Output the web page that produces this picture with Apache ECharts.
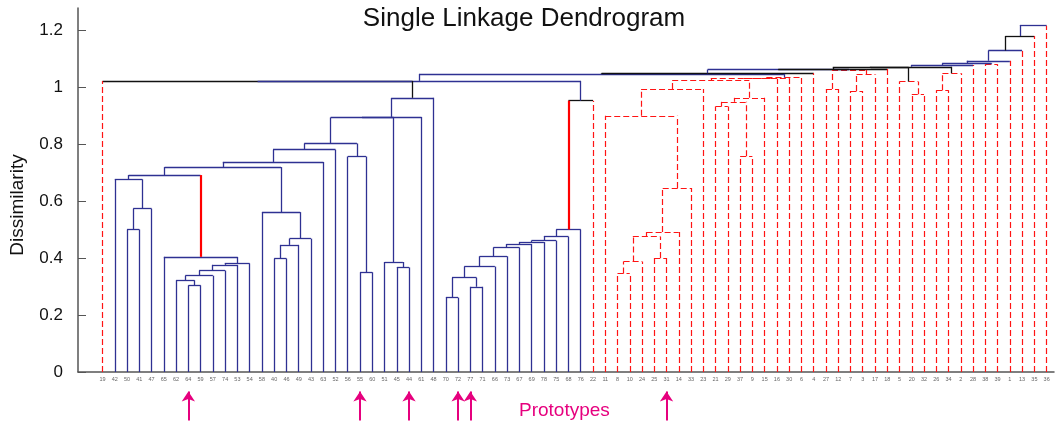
<!DOCTYPE html>
<html>
<head>
<meta charset="utf-8">
<script src="https://cdn.jsdelivr.net/npm/echarts@6/dist/echarts.min.js"></script>
<style>html,body{margin:0;padding:0;background:#fff}#c{width:1057px;height:423px}</style>
</head>
<body>
<div id="c"></div>
<script>
// Leaf labels in dendrogram order (left to right)
var leafLabels = [19,42,50,41,47,65,62,64,59,57,74,53,54,58,40,46,49,43,63,52,
  56,55,60,51,45,44,61,48,70,72,77,71,66,73,67,69,78,75,68,76,22,
  11,8,10,24,25,31,14,33,23,21,29,37,9,15,16,30,6,4,27,12,
  7,3,17,18,5,20,32,26,34,2,28,38,39,1,13,35,36];

// Merge table: [left child, right child, height]; children 1..78 are leaves, 79+ are earlier merges
var mergeLeft  = [64,62,80,81,82,83,65,50,86,42,88,40,90,91,58,89,94,95,55,56,96,45,51,99,102,103,
  70,77,105,107,108,109,110,111,112,113,114,115,
  8,117,25,118,120,121,11,123,21,37,125,127,124,129,130,131,
  27,7,134,133,20,5,26,139,38,
  19,142,143,144,145,146,147,148,149,150,151,152,153,154];
var mergeRight = [59,79,57,74,53,54,84,41,47,87,85,46,49,43,92,93,63,52,60,97,98,44,100,101,61,48,
  72,71,106,66,73,67,69,78,75,68,76,22,
  10,24,31,119,14,33,122,23,29,9,126,15,128,16,30,6,
  12,3,17,135,32,137,34,2,39,
  104,116,132,4,136,18,138,140,28,141,1,13,35,36];
var mergeHeight = [0.304,0.322,0.338,0.356,0.376,0.381,0.404,0.500,0.573,0.676,0.691,0.398,0.446,0.468,0.561,0.719,0.737,0.780,0.350,0.756,0.802,0.367,0.386,0.893,0.895,0.962,
  0.261,0.299,0.331,0.370,0.406,0.437,0.449,0.456,0.461,0.475,0.500,0.952,
  0.346,0.388,0.400,0.475,0.491,0.646,0.899,0.993,0.932,0.757,0.948,0.962,1.023,1.029,1.031,1.033,
  0.993,0.986,1.044,1.060,0.975,1.019,0.989,1.048,1.080,
  1.021,1.0215,1.046,1.048,1.061,1.063,1.068,1.071,1.077,1.083,1.092,1.128,1.179,1.215];
// link colour class: b = blue, r = red dashed, k = black
var mergeClass = ['b','b','b','b','b','b','b','b','b','b','b','b','b','b','b','b','b','b','b','b','b','b','b','b','b','b',
  'b','b','b','b','b','b','b','b','b','b','b','k',
  'r','r','r','r','r','r','r','r','r','r','r','r','r','r','r','r',
  'r','r','r','r','r','r','r','r','r',
  'k','b','b','k','b','k','k','k','b','b','b','b','k','b'];
// clusters whose upward leg is highlighted (solid red)
var highlighted = [85,115];
// prototype leaves (arrows)
var prototypes = [64,55,44,72,77,31];
var yTicks = [0,0.2,0.4,0.6,0.8,1,1.2];

var N = leafLabels.length;
var pos = {}, hgt = {}, cls = {};
leafLabels.forEach(function(l,i){ pos[l]=i; hgt[l]=0; cls[l]= l<=39 ? 'r' : 'b'; });
var styles = {
  b: {color:'#2e3192', width:1.3, type:'solid', opacity:1},
  r: {color:'#ff1414', width:1.2, type:[6,3], opacity:1},
  k: {color:'#111111', width:1.3, type:'solid', opacity:1},
  h: {color:'#ff0000', width:2.2, type:'solid', opacity:1}
};
var legData = [], horData = [];
for (var m=0;m<mergeLeft.length;m++){
  var id = N+1+m, a=mergeLeft[m], b=mergeRight[m], h=mergeHeight[m], c=mergeClass[m];
  [a,b].forEach(function(ch){
    var st = highlighted.indexOf(ch)>=0 ? 'h' : (ch<=N ? cls[ch] : c);
    legData.push({coords:[[pos[ch],hgt[ch]],[pos[ch],h]], lineStyle:styles[st]});
  });
  horData.push({coords:[[pos[a],h],[pos[b],h]], lineStyle:styles[c]});
  pos[id]=(pos[a]+pos[b])/2; hgt[id]=h; cls[id]=c;
}
var arrowData = prototypes.map(function(p){
  var i = leafLabels.indexOf(p);
  return {coords:[[i,-0.17],[i,-0.068]]};
});

var chart = echarts.init(document.getElementById('c'));
chart.setOption({
  animation:false,
  title:{text:'Single Linkage Dendrogram', left:519, top:1, textAlign:'center',
    textStyle:{fontFamily:'Liberation Sans, Arial, sans-serif', fontSize:26, fontWeight:'normal', color:'#111'}},
  grid:{left:78, right:0, top:8, bottom:51},
  xAxis:{type:'value', min:-2, max:77.6, interval:1,
    axisLine:{onZero:false, lineStyle:{color:'#555', width:1.5}}, axisTick:{show:false}, splitLine:{show:false},
    axisLabel:{fontSize:5.5, color:'#666', margin:4, fontFamily:'Liberation Sans, Arial',
      formatter:function(v){ return (v>=0 && v<N && v===Math.round(v)) ? String(leafLabels[v]) : ''; }}},
  yAxis:{type:'value', min:0, max:1.2772, interval:0.2,
    name:'Dissimilarity', nameLocation:'middle', nameGap:51, nameRotate:90,
    nameTextStyle:{fontSize:19, color:'#111', fontFamily:'Liberation Sans, Arial', padding:[0,30,0,0]},
    axisLine:{show:true, onZero:false, lineStyle:{color:'#555', width:1.5}},
    axisTick:{show:true, inside:true, length:8, lineStyle:{color:'#555'}},
    splitLine:{show:false},
    axisLabel:{fontSize:17, color:'#111', margin:15, fontFamily:'Liberation Sans, Arial', showMaxLabel:false,
      formatter:function(v){ return yTicks.indexOf(Math.round(v*10)/10)>=0 ? String(Math.round(v*10)/10) : ''; }}},
  series:[
    {type:'lines', coordinateSystem:'cartesian2d', polyline:false, silent:true, z:2, data:horData},
    {type:'lines', coordinateSystem:'cartesian2d', polyline:false, silent:true, z:3, data:legData},
    {type:'lines', coordinateSystem:'cartesian2d', clip:false, silent:true, z:4, data:arrowData,
      symbol:['none','arrow'], symbolSize:[8,10], lineStyle:{color:'#e6007e', width:2, opacity:1}}
  ]
});
</script>
<div style="position:absolute;left:519px;top:399px;color:#e6007e;font:19px 'Liberation Sans',Arial,sans-serif">Prototypes</div>
</body>
</html>
